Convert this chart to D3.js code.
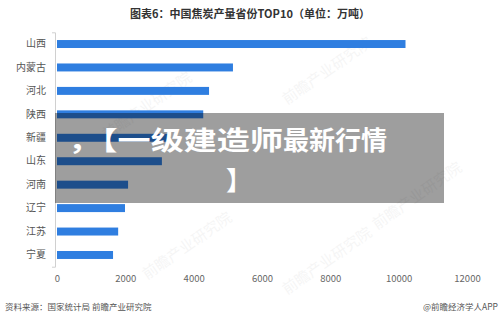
<!DOCTYPE html>
<html>
<head>
<meta charset="utf-8">
<script src="https://cdn.jsdelivr.net/npm/d3@7"></script>
<style>
  body { margin: 0; background: #fff; }
  svg { font-family: "Noto Sans CJK SC", "Noto Sans", sans-serif; }
</style>
</head>
<body>
<div id="chart"></div>
<script>
// provinces, top to bottom
const provinces = ["山西", "内蒙古", "河北", "陕西", "新疆", "山东", "河南", "辽宁", "江苏", "宁夏"];
// coke output, 万吨
const output = [10200, 5150, 4450, 4280, 3300, 3070, 2080, 1990, 1790, 1640];
const xTicks = [0, 2000, 4000, 6000, 8000, 10000, 12000];

const width = 500, height = 321;
const svg = d3.select("#chart").append("svg")
  .attr("width", width)
  .attr("height", height);

svg.append("rect").attr("width", width).attr("height", height).attr("fill", "#fff");

// faint watermarks
[[150, 110], [330, 75], [420, 200], [190, 250], [330, 265]].forEach(([x, y]) => {
  svg.append("text")
    .attr("x", x).attr("y", y)
    .attr("transform", `rotate(-35, ${x}, ${y})`)
    .attr("text-anchor", "middle")
    .attr("font-size", 15)
    .attr("fill", "#000")
    .attr("opacity", 0.035)
    .text("前瞻产业研究院");
});

svg.append("text")
  .attr("x", 250).attr("y", 18)
  .attr("text-anchor", "middle")
  .attr("font-size", 11)
  .attr("font-weight", "bold")
  .attr("fill", "#333")
  .text("图表6：中国焦炭产量省份TOP10（单位：万吨）");

const x = d3.scaleLinear().domain([0, 12000]).range([57, 467]);
const y = d3.scaleBand().domain(provinces).range([32.3, 266.7])
  .paddingInner(0.66).paddingOuter(0.33);

svg.selectAll("rect.bar")
  .data(provinces)
  .join("rect")
  .attr("class", "bar")
  .attr("x", x(0))
  .attr("y", d => y(d))
  .attr("width", (d, i) => x(output[i]) - x(0))
  .attr("height", y.bandwidth())
  .attr("fill", "#2f7ee0");

const yAxis = svg.append("g")
  .attr("transform", "translate(55,0)")
  .call(d3.axisLeft(y).tickSize(0).tickSizeOuter(3).tickPadding(9));
yAxis.select(".domain").attr("stroke", "#d0d0d0");
yAxis.selectAll("text").attr("font-size", 10).attr("fill", "#555")
  .attr("font-family", "'Noto Sans CJK SC', sans-serif");

const xAxis = svg.append("g")
  .attr("transform", "translate(0,272)")
  .call(d3.axisBottom(x).tickValues(xTicks).tickFormat(d3.format("d")).tickSize(0).tickPadding(3));
xAxis.select(".domain").remove();
xAxis.selectAll("text").attr("font-size", 9.5).attr("fill", "#666")
  .attr("font-family", "'Noto Sans CJK SC', sans-serif");

svg.append("text")
  .attr("x", 5).attr("y", 310)
  .attr("font-size", 8.5)
  .attr("fill", "#555")
  .text("资料来源：国家统计局 前瞻产业研究院");

svg.append("text")
  .attr("x", 498).attr("y", 310)
  .attr("text-anchor", "end")
  .attr("font-size", 8.5)
  .attr("fill", "#555")
  .text("@前瞻经济学人APP");

// grey banner over the chart
svg.append("rect")
  .attr("x", 55).attr("y", 113)
  .attr("width", 389).attr("height", 90)
  .attr("fill", "#000")
  .attr("opacity", 0.38);

const banner = svg.append("text")
  .attr("x", 68).attr("y", 150)
  .attr("font-size", 26)
  .attr("font-weight", "bold")
  .attr("fill", "#fff");
banner.append("tspan")
  .attr("textLength", 215).attr("lengthAdjust", "spacingAndGlyphs")
  .text("，【一级建造师");
banner.append("tspan")
  .attr("x", 283)
  .text("最新行情");
banner.append("tspan")
  .attr("x", 226).attr("y", 190)
  .text("】");
</script>
</body>
</html>
